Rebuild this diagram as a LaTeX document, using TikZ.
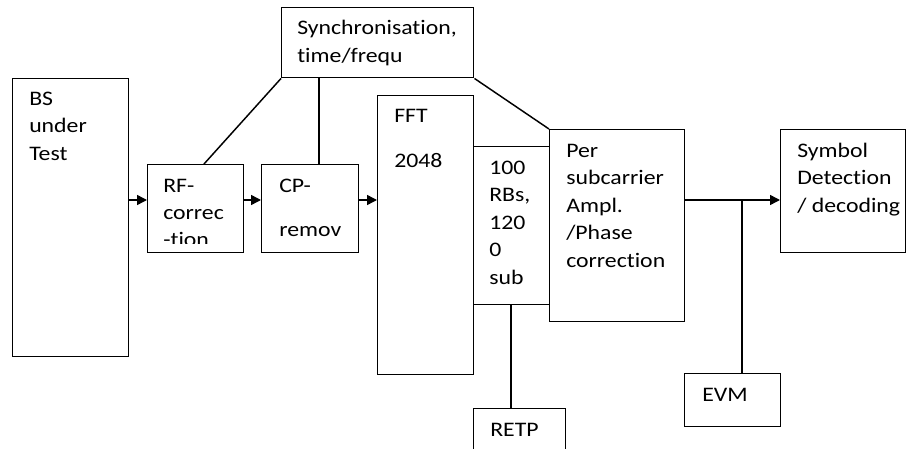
\documentclass[tikz,border=0pt]{standalone}
\usepackage{fontspec}
\setmainfont{Carlito}[FakeStretch=1.15, Ligatures=NoCommon]
\usetikzlibrary{arrows.meta}
\newcommand{\txt}[1]{\vtop{\baselineskip=20.6pt\lineskiplimit=-20pt\halign{##\hfil\cr#1\crcr}}}
\tikzset{
  box/.style={draw, line width=1.1pt, inner sep=0pt, anchor=north west},
  lbl/.style={anchor=base west, inner sep=0pt, font=\fontsize{15.5pt}{20.6pt}\selectfont},
  wire/.style={line width=1.1pt},
  arr/.style={line width=1.1pt, -{Triangle[length=7.5pt,width=7.5pt]}}
}
\newcommand{\bx}[5]{\node[box, minimum width={(#4-#2)*0.75pt}, minimum height={(#5-#3)*0.75pt}] (#1) at (#2,#3) {};}
\begin{document}
\begin{tikzpicture}[x=0.75pt, y=-0.75pt]
\useasboundingbox (0,0) rectangle (906,449);
% boxes
\bx{sync}{281}{7}{473}{77}
\bx{bs}{12}{78}{128}{356}
\bx{rf}{147}{164}{243}{252}
\bx{cp}{261}{164}{358}{252}
\bx{fft}{377}{95}{473}{374}
\bx{rb}{473}{146}{549}{304}
\bx{per}{549}{129}{684}{321}
\bx{sym}{780}{129}{905}{252}
\bx{evm}{684}{373}{780}{426}
\node[box, minimum width={92*0.75pt}, minimum height={60*0.75pt}] (retp) at (473,408) {};
% texts
\node[lbl] (tsync) at (297,35) {\txt{Synchronisation,\cr time/frequ}};
\node[lbl] (tbs) at (29,105.5) {\txt{BS\cr under\cr Test}};
\begin{scope}
\clip (147,164) rectangle (243,243);
\node[lbl] (trf) at (163,192) {\txt{RF-\cr correc\cr -tion}};
\end{scope}
\node[lbl] (tcp1) at (279,192) {CP-};
\node[lbl] (tcp2) at (279,236.5) {remov};
\node[lbl] (tfft1) at (394,123) {FFT};
\node[lbl] (tfft2) at (394,167.5) {2048};
\node[lbl] (trb) at (489,174.5) {\txt{100\cr RBs,\cr 120\cr 0\cr sub}};
\node[lbl] (tper) at (566,157.5) {\txt{Per\cr subcarrier\cr Ampl.\cr /Phase\cr correction}};
\node[lbl] (tsym) at (797,157.5) {\txt{Symbol\cr Detection\cr / decoding}};
\node[lbl] (tevm) at (702,401) {EVM};
\node[lbl] (tretp) at (490,436) {RETP};
% connectors
\coordinate (rftop) at (204,164);
\coordinate (cptop) at (319,164);
\coordinate (tap) at (742,200);
\draw[wire] (sync.south west) -- (rf.north -| rftop);
\draw[wire] (sync.south -| cptop) -- (cp.north -| cptop);
\draw[wire] (sync.south east) -- (per.north west);
\draw[arr] (bs.east |- tap) -- (rf.west |- tap);
\draw[arr] (rf.east |- tap) -- (cp.west |- tap);
\draw[arr] (cp.east |- tap) -- (fft.west |- tap);
\draw[arr] (per.east |- tap) -- (sym.west |- tap);
\draw[wire] (tap) -- (evm.north -| tap);
\draw[wire] (rb.south -| 511,0) -- (retp.north -| 511,0);
\end{tikzpicture}
\end{document}
